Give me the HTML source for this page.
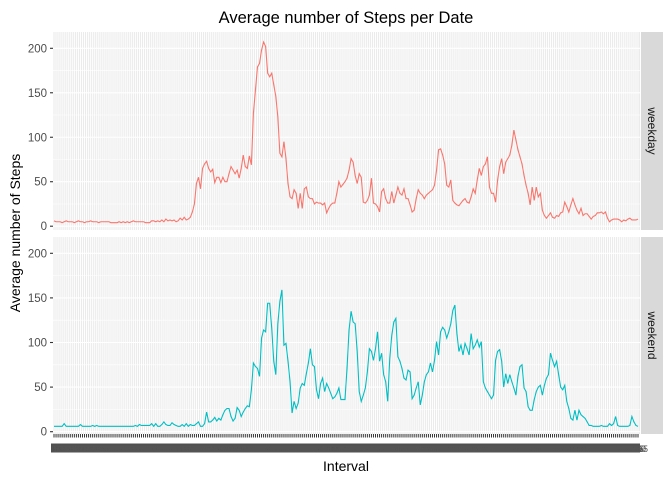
<!DOCTYPE html>
<html><head><meta charset="utf-8"><style>
html,body{margin:0;padding:0;background:#fff;}
svg{display:block;font-family:"Liberation Sans",Arial,sans-serif;}
</style></head><body>
<svg id="chart" width="672" height="480" viewBox="0 0 672 480" xmlns="http://www.w3.org/2000/svg">
<text x="346" y="23" font-size="16.5" text-anchor="middle" fill="#000">Average number of Steps per Date</text>
<text transform="translate(20,233) rotate(-90)" font-size="14" text-anchor="middle" fill="#000">Average number of Steps</text>
<text x="346" y="471" font-size="14" text-anchor="middle" fill="#000">Interval</text>
<rect x="51" y="443.5" width="589" height="9" fill="#505050"/>
<g id="g"></g>
</svg>
<script>
const weekdayValues = [6,5,5,5,4,5,6,5,5,5,4,5,6,5,5,4,5,5,6,5,5,5,4,5,5,5,5,5,4,4,4,4,5,4,5,4,5,4,5,6,5,5,5,5,5,4,4,4,6,6,5,6,5,7,5,8,6,7,6,7,5,6,9,7,10,7,8,
10,16,25,48,55,42,65,70,73,65,61,64,49,55,55,49,55,50,50,59,67,63,59,63,54,65,80,67,65,79,69,127,153,179,183,198,207,202,172,168,172,159,146,123,82,78,95,76,48,33,31,41,37,20,37,20,42,44,33,31,31,25,27,26,26,24,26,15,20,24,26,26,37,50,44,47,50,54,63,
76,72,57,48,59,55,27,26,29,35,54,26,25,22,16,39,42,31,26,26,39,26,35,44,37,35,42,31,31,24,16,18,31,41,37,35,31,35,37,39,41,46,63,86,87,80,70,46,44,52,29,26,24,23,26,29,31,27,26,33,42,37,52,65,57,67,70,78,44,37,37,27,52,67,76,59,72,76,80,91,108,97,86,78,70,57,46,37,24,44,29,44,33,37,18,12,9,12,15,10,9,12,11,15,16,27,22,16,24,31,24,18,14,20,12,14,14,11,8,11,12,15,15,16,14,16,9,5,7,8,8,8,7,5,7,6,8,9,7,7,7,8];
const weekendValues = [6,6,6,6,6,9,6,6,6,6,6,6,6,8,6,6,6,6,6,7,6,7,6,6,6,6,6,6,6,6,6,6,6,6,6,6,6,6,6,6,7,6,8,7,7,7,7,7,9,6,9,6,6,8,11,8,7,7,10,8,7,6,6,8,6,9,6,8,7,7,9,11,6,6,9,
22,11,11,13,16,12,15,13,19,24,26,26,17,12,15,27,24,17,22,26,29,28,47,77,73,71,62,105,114,112,144,144,116,79,64,121,146,159,97,99,79,56,21,34,26,32,49,54,52,65,77,93,75,73,47,37,54,60,45,54,49,43,37,39,43,49,36,36,36,71,114,
135,123,121,90,45,34,41,49,67,93,90,80,93,112,79,88,64,56,34,82,108,123,127,84,79,71,60,58,69,67,37,41,49,56,30,41,56,64,67,77,67,80,101,86,112,117,114,105,112,121,136,142,110,90,97,86,99,93,86,110,93,97,103,95,101,56,49,45,41,37,41,80,90,92,79,50,65,54,64,56,49,41,62,73,75,49,45,28,24,24,36,45,50,52,41,52,60,64,88,80,73,79,64,50,47,52,34,26,15,13,24,13,24,19,17,15,11,7,7,6,6,6,6,7,6,6,6,9,7,9,17,7,6,6,6,6,6,7,17,11,7,6];
const yTicks = [0,50,100,150,200];
const panelNames = ["weekday","weekend"];
const NS="http://www.w3.org/2000/svg";
const g=document.getElementById('g');
function mk(t,a,p){const e=document.createElementNS(NS,t);for(const k in a)e.setAttribute(k,a[k]);(p||g).appendChild(e);return e;}
const PX0=53,PX1=640,N=weekdayValues.length;
function xS(i){return 54+i*(584/(N-1));}
const panels=[{top:32,bot:230,zero:226.2,data:weekdayValues,color:"#F8766D"},{top:237,bot:434,zero:431.7,data:weekendValues,color:"#00BFC4"}];
function yS(p,v){return p.zero-v*((p.zero-(p.top+16.3))/200);}
panels.forEach((p,pi)=>{
  const bg=mk('rect',{x:PX0,y:p.top,width:PX1-PX0,height:p.bot-p.top,fill:'#ebebeb'});
  
  
  for(let k=0;k<yTicks.length;k++){
    const v=yTicks[k];
    if(k<yTicks.length-1){const mv=(v+yTicks[k+1])/2;mk('line',{x1:PX0,x2:PX1,y1:yS(p,mv),y2:yS(p,mv),stroke:'#fff','stroke-width':0.55});}
    mk('line',{x1:PX0,x2:PX1,y1:yS(p,v),y2:yS(p,v),stroke:'#fff','stroke-width':1.1});
    mk('line',{x1:PX0-3,x2:PX0,y1:yS(p,v),y2:yS(p,v),stroke:'#333','stroke-width':1.1});
    const t=mk('text',{x:PX0-6,y:yS(p,v)+4,'font-size':11.5,'text-anchor':'end',fill:'#4d4d4d'});
    t.textContent=v;
    
    
  }
  for(let i=0;i<N;i++){mk('line',{x1:xS(i),x2:xS(i),y1:p.top,y2:p.bot,stroke:'#fff','stroke-width':0.95});}
  let d='';
  p.data.forEach((v,i)=>{d+=(i?'L':'M')+xS(i).toFixed(2)+','+yS(p,v).toFixed(2);});
  const line=mk('path',{d:d,fill:'none',stroke:p.color,'stroke-width':1.1});
  
  
  const s=mk('rect',{x:641,y:p.top,width:22,height:p.bot-p.top,fill:'#d9d9d9'});
  
  
  const cy=(p.top+p.bot)/2;
  const st=mk('text',{transform:'translate(648,'+cy+') rotate(90)','font-size':12,'text-anchor':'middle',fill:'#1a1a1a'});
  st.textContent=panelNames[pi];
  
  
});
for(let i=0;i<N;i++){
  mk('line',{x1:xS(i),x2:xS(i),y1:434,y2:437.5,stroke:'#333','stroke-width':1});
  const h=Math.floor(i/12),m=(i%12)*5;
  const t=mk('text',{x:xS(i),y:452,'font-size':9,'text-anchor':'middle',fill:'#555'});
  t.textContent=String(h*100+m);
  
  
}
</script>
</body></html>
